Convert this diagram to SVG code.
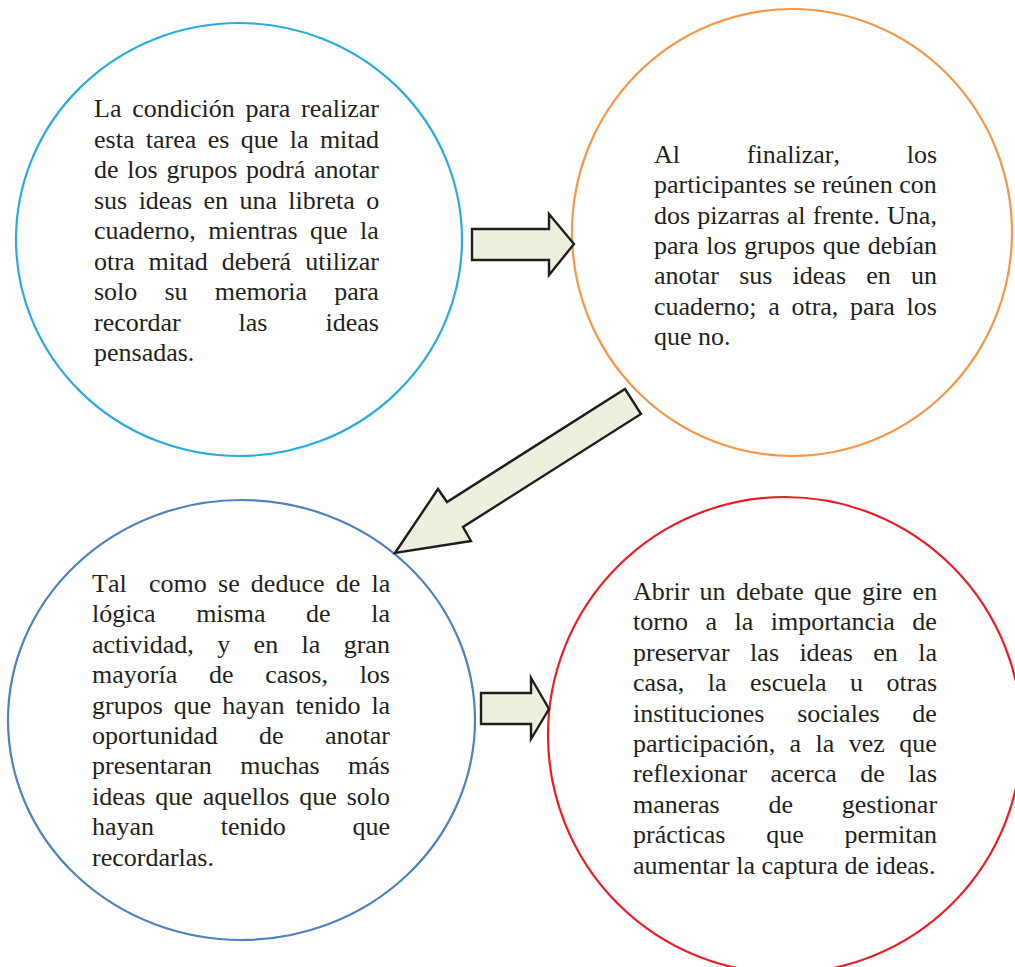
<svg xmlns="http://www.w3.org/2000/svg" width="1015" height="967" viewBox="0 0 1015 967">
<style>
.c{fill:none;stroke-width:2.2}
.arrow{fill:#EBF1DE;stroke:#1e1e1e;stroke-width:2.4;stroke-linejoin:miter}
text{font-family:"Liberation Serif","Times New Roman",serif;font-size:26px;fill:#231f20;font-kerning:none;font-variant-ligatures:none}
</style>
<rect width="1015" height="967" fill="#ffffff"/>
<g id="node1">
<ellipse class="c" cx="239" cy="239.5" rx="223" ry="216.5" stroke="#29ABE2"/>
<text x="94" y="117" style="word-spacing:4.3px">La condición para realizar</text>
<text x="94" y="147.5" style="word-spacing:4.9px">esta tarea es que la mitad</text>
<text x="94" y="178" style="word-spacing:2.3px">de los grupos podrá anotar</text>
<text x="94" y="208.5" style="word-spacing:4.9px">sus ideas en una libreta o</text>
<text x="94" y="239" style="word-spacing:5.9px">cuaderno, mientras que la</text>
<text x="94" y="269.5" style="word-spacing:7.6px">otra mitad deberá utilizar</text>
<text x="94" y="300" style="word-spacing:20.6px">solo su memoria para</text>
<text x="94" y="330.5" style="word-spacing:51.5px">recordar las ideas</text>
<text x="94" y="361">pensadas.</text>
</g>
<g id="node2">
<ellipse class="c" cx="792" cy="232.5" rx="220" ry="223.5" stroke="#F79646"/>
<text x="654" y="163" style="word-spacing:60.3px">Al finalizar, los</text>
<text x="654" y="193.3" style="word-spacing:0.2px">participantes se reúnen con</text>
<text x="654" y="223.6" style="word-spacing:0.7px">dos pizarras al frente. Una,</text>
<text x="654" y="253.9" style="word-spacing:1.1px">para los grupos que debían</text>
<text x="654" y="284.2" style="word-spacing:13.7px">anotar sus ideas en un</text>
<text x="654" y="314.5" style="word-spacing:5.2px">cuaderno; a otra, para los</text>
<text x="654" y="344.8">que no.</text>
</g>
<g id="node3">
<ellipse class="c" cx="241.5" cy="720" rx="233.5" ry="220" stroke="#4F81BD"/>
<text x="92" y="592" style="word-spacing:4.7px">Tal&#160; como se deduce de la</text>
<text x="92" y="622.4" style="word-spacing:34.1px">lógica misma de la</text>
<text x="92" y="652.8" style="word-spacing:16.9px">actividad, y en la gran</text>
<text x="92" y="683.2" style="word-spacing:25.2px">mayoría de casos, los</text>
<text x="92" y="713.6" style="word-spacing:4.5px">grupos que hayan tenido la</text>
<text x="92" y="744" style="word-spacing:34.9px">oportunidad de anotar</text>
<text x="92" y="774.4" style="word-spacing:21.9px">presentaran muchas más</text>
<text x="92" y="804.8" style="word-spacing:3.4px">ideas que aquellos que solo</text>
<text x="92" y="835.2" style="word-spacing:60.2px">hayan tenido que</text>
<text x="92" y="865.6">recordarlas.</text>
</g>
<g id="node4">
<ellipse class="c" cx="785" cy="735" rx="237" ry="238" stroke="#ED1C24"/>
<text x="633" y="600" style="word-spacing:3.8px">Abrir un debate que gire en</text>
<text x="633" y="630.4" style="word-spacing:11px">torno a la importancia de</text>
<text x="633" y="660.8" style="word-spacing:13.9px">preservar las ideas en la</text>
<text x="633" y="691.2" style="word-spacing:17px">casa, la escuela u otras</text>
<text x="633" y="721.6" style="word-spacing:26.3px">instituciones sociales de</text>
<text x="633" y="752" style="word-spacing:7.9px">participación, a la vez que</text>
<text x="633" y="782.4" style="word-spacing:16.9px">reflexionar acerca de las</text>
<text x="633" y="812.8" style="word-spacing:42.3px">maneras de gestionar</text>
<text x="633" y="843.2" style="word-spacing:34.3px">prácticas que permitan</text>
<text x="633" y="873.6">aumentar la captura de ideas.</text>
</g>
<g id="connectors">
<polygon class="arrow" points="472,229 549,229 549,214 574,244 549,275 549,260 472,260"/>
<polygon class="arrow" points="625,389 641,414 463,527 471,541 395,553 438,489 447,502"/>
<polygon class="arrow" points="481,693 531,693 531,678 549,709 531,739 531,724 481,724"/>
</g>
</svg>
